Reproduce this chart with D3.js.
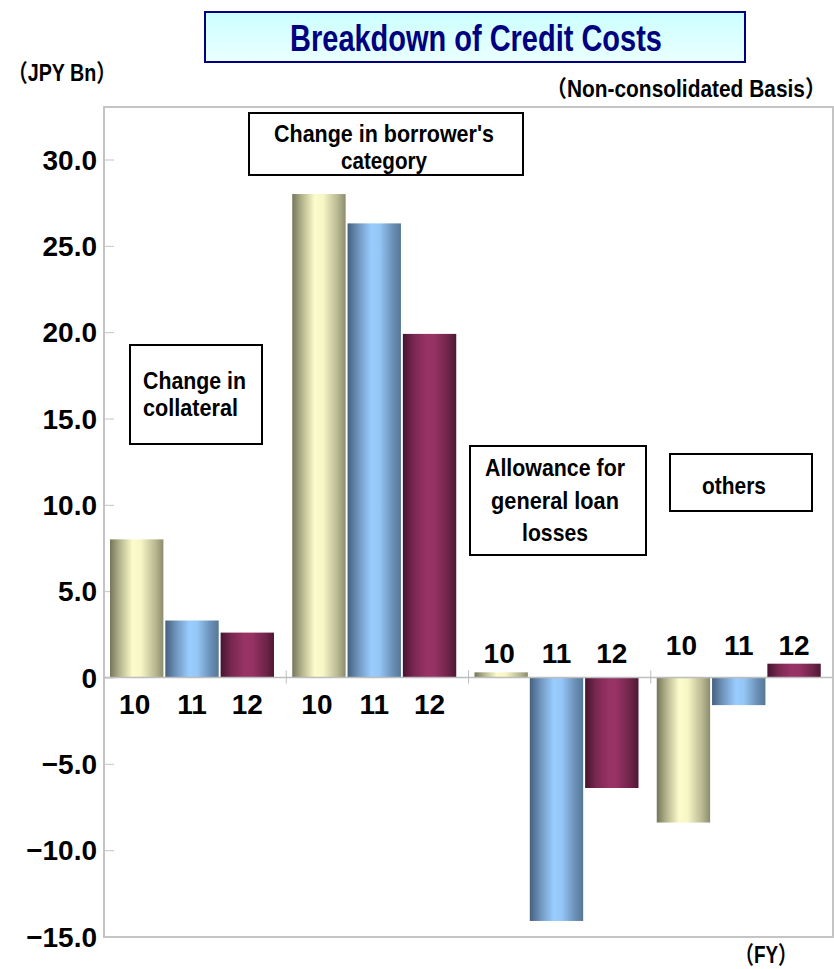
<!DOCTYPE html>
<html><head><meta charset="utf-8">
<script src="https://cdn.jsdelivr.net/npm/d3@7"></script>
<style>body{margin:0;background:#fff} svg{display:block}</style>
</head><body><svg id="chart" width="834" height="969"></svg>
<script>
// Credit cost components, JPY Bn, fiscal years 2010-2012
const categories = ["collateral", "borrower", "allowance", "others"];
const categoryLines = [
  ["Change in", "collateral"],
  ["Change in borrower's", "category"],
  ["Allowance for", "general loan", "losses"],
  ["others"]
];
const years = ["10", "11", "12"];
const fy10 = [8.0, 28.0, 0.3, -8.4];
const fy11 = [3.3, 26.3, -14.1, -1.6];
const fy12 = [2.6, 19.9, -6.4, 0.8];
const yTicks = [-15, -10, -5, 0, 5, 10, 15, 20, 25, 30];

const series = [fy10, fy11, fy12];
const rows = categories.map((c, i) => ({cat: c, vals: years.map((yr, j) => ({yr, v: series[j][i]}))}));

const svg = d3.select("#chart");
const frame = {left: 104, right: 833, top: 107, bottom: 937};
const font = "'Liberation Sans', Arial, 'Noto Sans CJK JP', sans-serif";

// condensed bold text: squeezed horizontally to a set width
function label(text, x, yy, size, anchor, len, fill) {
  const g = svg.append("g").attr("transform", `translate(${x},${yy})`);
  const t = g.append("text").attr("text-anchor", anchor || "start")
    .attr("font-family", font).attr("font-weight", "bold").attr("font-size", size)
    .attr("fill", fill || "#000").text(text);
  const natural = t.node().getComputedTextLength();
  if (len && natural > 0) t.attr("transform", `scale(${len / natural},1)`);
  return t;
}

const y = d3.scaleLinear().domain([-15, 30]).range([936.5, 159.5]);
const x0 = d3.scaleBand().domain(categories).range([frame.left, frame.right]).padding(0);
const x1 = d3.scaleBand().domain(years).range([6, 170]).paddingInner(0.035).paddingOuter(0);

// gradients giving each bar a rounded, cylinder-like shading
const defs = svg.append("defs");
const grads = [
  {id: "g10", stops: [["0", "#75765a"], ["0.18", "#b4b48c"], ["0.42", "#fbfbcb"], ["0.58", "#f6f6c6"], ["0.85", "#b8b892"], ["1", "#8c8c6c"]]},
  {id: "g11", stops: [["0", "#44607f"], ["0.2", "#6f95bd"], ["0.45", "#9acdff"], ["0.6", "#94c6f6"], ["0.85", "#6a8fb6"], ["1", "#557896"]]},
  {id: "g12", stops: [["0", "#461430"], ["0.2", "#782850"], ["0.45", "#993366"], ["0.6", "#953264"], ["0.85", "#6e2448"], ["1", "#4e1834"]]}
];
grads.forEach(g => {
  const lg = defs.append("linearGradient").attr("id", g.id).attr("x1", 0).attr("x2", 1).attr("y1", 0).attr("y2", 0);
  g.stops.forEach(s => lg.append("stop").attr("offset", s[0]).attr("stop-color", s[1]));
});
const titleGrad = defs.append("linearGradient").attr("id", "tg").attr("x1", 0).attr("x2", 0).attr("y1", 0).attr("y2", 1);
titleGrad.append("stop").attr("offset", "0").attr("stop-color", "#ccffff");
titleGrad.append("stop").attr("offset", "1").attr("stop-color", "#eaffff");

// title
svg.append("rect").attr("x", 205).attr("y", 12).attr("width", 540).attr("height", 50)
  .attr("fill", "url(#tg)").attr("stroke", "#000080").attr("stroke-width", 2);
label("Breakdown of Credit Costs", 476, 51, 37, "middle", 372, "#000080");

label("（JPY Bn）", 8, 81, 24, "start", 108);
label("（Non-consolidated Basis）", 546, 97, 23, "start", 280);
label("（FY）", 735, 963, 24, "start", 62);

// plot frame
svg.append("rect").attr("x", frame.left).attr("y", frame.top)
  .attr("width", frame.right - frame.left).attr("height", frame.bottom - frame.top)
  .attr("fill", "none").attr("stroke", "#c4c4c4").attr("stroke-width", 2);

// y axis ticks inside the frame, labels to the left
const yAxis = d3.axisRight(y).tickValues(yTicks).tickSize(10).tickFormat("");
const ya = svg.append("g").attr("transform", `translate(${frame.left},0)`).call(yAxis);
ya.select(".domain").remove();
ya.selectAll(".tick line").attr("stroke", "#c4c4c4").attr("stroke-width", 1);
svg.append("g").selectAll("text").data(yTicks).join("text")
  .attr("x", 97).attr("y", d => y(d)).attr("dy", "0.36em").attr("text-anchor", "end")
  .attr("font-family", font).attr("font-weight", "bold").attr("font-size", 28)
  .text(d => d === 0 ? "0" : (d < 0 ? "−" + Math.abs(d).toFixed(1) : d.toFixed(1)));

// bars
const groups = svg.append("g").selectAll("g").data(rows).join("g")
  .attr("transform", d => `translate(${x0(d.cat)},0)`);
groups.selectAll("rect").data(d => d.vals).join("rect")
  .attr("x", d => x1(d.yr)).attr("width", x1.bandwidth())
  .attr("y", d => y(Math.max(0, d.v))).attr("height", d => Math.abs(y(d.v) - y(0)))
  .attr("fill", d => `url(#g${d.yr})`);

// zero baseline and category separators
svg.append("line").attr("x1", frame.left).attr("x2", frame.right).attr("y1", y(0)).attr("y2", y(0))
  .attr("stroke", "#bdbdbd").attr("stroke-width", 1.5);
svg.append("g").selectAll("line").data(categories.slice(1)).join("line")
  .attr("x1", d => x0(d)).attr("x2", d => x0(d)).attr("y1", y(0) - 7).attr("y2", y(0) + 6)
  .attr("stroke", "#bdbdbd").attr("stroke-width", 1);

// fiscal year labels: below the baseline for rising groups, above the
// tallest positive bar for falling ones
groups.selectAll("text.yr").data(d => {
  const net = d3.sum(d.vals, v => v.v);
  const top = Math.max(0, d3.max(d.vals, v => v.v));
  return d.vals.map(v => ({yr: v.yr, above: net < 0, top}));
}).join("text").attr("class", "yr")
  .attr("x", d => x1(d.yr) + x1.bandwidth() / 2 + (d.yr === "10" ? -2 : 0))
  .attr("y", d => d.above ? y(d.top) - 9 : y(0) + 36)
  .attr("text-anchor", "middle").attr("font-family", font).attr("font-weight", "bold")
  .attr("font-size", 28).text(d => d.yr);

// category callout boxes
const boxes = [
  {x: 130, y: 345, w: 132, h: 99, anchor: "start", tx: 143, ty: [389, 416], len: [103, 95]},
  {x: 249, y: 113, w: 274, h: 62, anchor: "middle", tx: 384, ty: [142, 169], len: [220, 86]},
  {x: 470, y: 446, w: 176, h: 109, anchor: "middle", tx: 555, ty: [476, 509, 541], len: [140, 128, 66]},
  {x: 670, y: 454, w: 142, h: 57, anchor: "middle", tx: 734, ty: [494], len: [64]}
];
boxes.forEach((b, i) => {
  svg.append("rect").attr("x", b.x).attr("y", b.y).attr("width", b.w).attr("height", b.h)
    .attr("fill", "#fff").attr("stroke", "#000").attr("stroke-width", 2);
  categoryLines[i].forEach((line, k) => label(line, b.tx, b.ty[k], 23, b.anchor, b.len[k]));
});
</script></body></html>
